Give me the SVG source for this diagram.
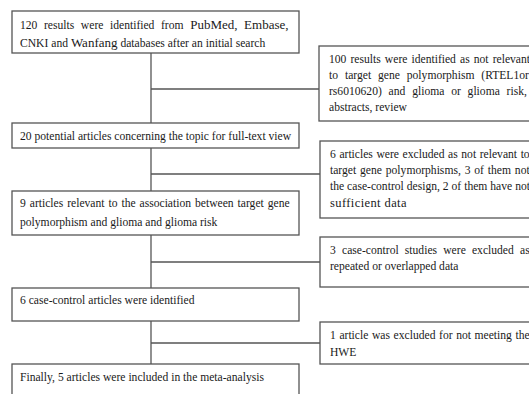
<svg xmlns="http://www.w3.org/2000/svg" width="529" height="394" viewBox="0 0 529 394">
<style>
.box{fill:#fff;stroke:#555;stroke-width:1.3}
.ln{stroke:#555;stroke-width:1.3;fill:none}
text{font-family:"Liberation Serif","Times New Roman",serif;font-size:11.6px;fill:#1a1a1a}
.big{font-size:13px}
</style>
<rect width="529" height="394" fill="#fff"/>
<g id="connectors">
<line class="ln" x1="151" y1="53" x2="151" y2="123"/>
<line class="ln" x1="151" y1="89" x2="319" y2="89"/>
<line class="ln" x1="151" y1="148" x2="151" y2="191"/>
<line class="ln" x1="151" y1="174" x2="320" y2="174"/>
<line class="ln" x1="151" y1="235" x2="151" y2="288"/>
<line class="ln" x1="151" y1="262" x2="320" y2="262"/>
<line class="ln" x1="151" y1="321" x2="151" y2="364"/>
<line class="ln" x1="151" y1="343" x2="320" y2="343"/>
</g>
<g id="n1">
<rect class="box" x="12" y="11" width="287" height="42"/>
<text x="20" y="29" word-spacing="3.7">120 results were identified from <tspan class="big">PubMed,</tspan> <tspan class="big">Embase,</tspan></text>
<text x="20" y="47">CNKI and <tspan class="big">Wanfang</tspan> databases after an initial search</text>
</g>
<g id="n1x">
<rect class="box" x="319" y="46" width="222" height="75"/>
<text x="329" y="63" word-spacing="1.2">100 results were identified as not relevant</text>
<text x="329" y="79" word-spacing="4">to target gene polymorphism (RTEL1or</text>
<text x="329" y="95" word-spacing="3.9">rs6010620) and glioma or glioma risk,</text>
<text x="329" y="111">abstracts, review</text>
</g>
<g id="n2">
<rect class="box" x="12" y="123" width="287" height="25"/>
<text x="20" y="140">20 potential articles concerning the topic for full-text view</text>
</g>
<g id="n2x">
<rect class="box" x="320" y="141" width="221" height="77"/>
<text x="330" y="158" word-spacing="0.7">6 articles were excluded as not relevant to</text>
<text x="330" y="174" word-spacing="0.95">target gene polymorphisms, 3 of them not</text>
<text x="330" y="190" word-spacing="0.05">the case-control design, 2 of them have not</text>
<text x="330" y="207" style="font-size:12.5px;letter-spacing:0.4px">sufficient data</text>
</g>
<g id="n3">
<rect class="box" x="12" y="191" width="287" height="44"/>
<text x="20" y="207" word-spacing="1.05">9 articles relevant to the association between target gene</text>
<text x="20" y="226">polymorphism and glioma and glioma risk</text>
</g>
<g id="n3x">
<rect class="box" x="320" y="237" width="221" height="50"/>
<text x="330" y="254" word-spacing="3.3">3 case-control studies were excluded as</text>
<text x="330" y="270">repeated or overlapped data</text>
</g>
<g id="n4">
<rect class="box" x="12" y="288" width="287" height="33"/>
<text x="20" y="304">6 case-control articles were identified</text>
</g>
<g id="n4x">
<rect class="box" x="320" y="322" width="221" height="42"/>
<text x="330" y="339" word-spacing="0.7">1 article was excluded for not meeting the</text>
<text x="330" y="356">HWE</text>
</g>
<g id="n5">
<rect class="box" x="12" y="364" width="287" height="40"/>
<text x="20" y="381">Finally, 5 articles were included in the meta-analysis</text>
</g>
</svg>
